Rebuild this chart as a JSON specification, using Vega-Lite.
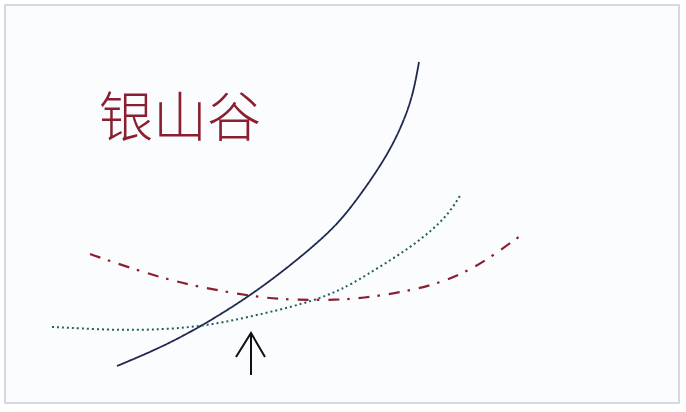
{
  "$schema": "https://vega.github.io/schema/vega-lite/v6.json",
  "autosize": {"type": "fit", "contains": "padding"},
  "width": 686,
  "height": 412,
  "padding": {"left": 5, "top": 5, "right": 7, "bottom": 9},
  "background": "#ffffff",
  "config": {"view": {"stroke": "#c9cdd4", "strokeWidth": 1.5, "fill": "#fbfcfe"}},
  "datasets": {
    "curves": [
      {"series": "fast", "order": 1, "x": 117, "y": 46},
      {"series": "fast", "order": 2, "x": 160, "y": 64},
      {"series": "fast", "order": 3, "x": 200, "y": 85},
      {"series": "fast", "order": 4, "x": 247, "y": 114},
      {"series": "fast", "order": 5, "x": 290, "y": 146},
      {"series": "fast", "order": 6, "x": 330, "y": 180},
      {"series": "fast", "order": 7, "x": 350, "y": 203},
      {"series": "fast", "order": 8, "x": 373, "y": 235},
      {"series": "fast", "order": 9, "x": 390, "y": 262},
      {"series": "fast", "order": 10, "x": 403, "y": 289},
      {"series": "fast", "order": 11, "x": 413, "y": 317},
      {"series": "fast", "order": 12, "x": 419, "y": 350},
      {"series": "mid", "order": 1, "x": 52, "y": 85},
      {"series": "mid", "order": 2, "x": 110, "y": 82},
      {"series": "mid", "order": 3, "x": 150, "y": 82},
      {"series": "mid", "order": 4, "x": 200, "y": 85},
      {"series": "mid", "order": 5, "x": 250, "y": 95},
      {"series": "mid", "order": 6, "x": 307, "y": 109},
      {"series": "mid", "order": 7, "x": 333, "y": 119},
      {"series": "mid", "order": 8, "x": 350, "y": 127},
      {"series": "mid", "order": 9, "x": 383, "y": 147},
      {"series": "mid", "order": 10, "x": 417, "y": 169},
      {"series": "mid", "order": 11, "x": 447, "y": 195},
      {"series": "mid", "order": 12, "x": 461, "y": 218},
      {"series": "slow", "order": 1, "x": 90, "y": 158},
      {"series": "slow", "order": 2, "x": 110, "y": 151},
      {"series": "slow", "order": 3, "x": 140, "y": 141},
      {"series": "slow", "order": 4, "x": 170, "y": 132},
      {"series": "slow", "order": 5, "x": 200, "y": 125},
      {"series": "slow", "order": 6, "x": 233, "y": 119},
      {"series": "slow", "order": 7, "x": 265, "y": 114},
      {"series": "slow", "order": 8, "x": 297, "y": 112},
      {"series": "slow", "order": 9, "x": 337, "y": 112},
      {"series": "slow", "order": 10, "x": 363, "y": 114},
      {"series": "slow", "order": 11, "x": 397, "y": 119},
      {"series": "slow", "order": 12, "x": 430, "y": 126},
      {"series": "slow", "order": 13, "x": 460, "y": 137},
      {"series": "slow", "order": 14, "x": 487, "y": 152},
      {"series": "slow", "order": 15, "x": 520, "y": 176}
    ],
    "arrow": [
      {"part": "stem", "order": 1, "x": 251, "y": 79},
      {"part": "stem", "order": 2, "x": 251, "y": 37},
      {"part": "head", "order": 1, "x": 236, "y": 55},
      {"part": "head", "order": 2, "x": 251, "y": 79},
      {"part": "head", "order": 3, "x": 265, "y": 55}
    ],
    "labels": [
      {"label": "银山谷", "x": 180, "y": 275}
    ]
  },
  "layer": [
    {
      "data": {"name": "curves"},
      "mark": {"type": "line", "interpolate": "basis", "strokeCap": "butt"},
      "encoding": {
        "x": {"field": "x", "type": "quantitative", "scale": {"domain": [5, 679]}, "axis": null},
        "y": {"field": "y", "type": "quantitative", "scale": {"domain": [9, 407]}, "axis": null},
        "order": {"field": "order", "type": "quantitative"},
        "detail": {"field": "series", "type": "nominal"},
        "color": {"field": "series", "type": "nominal", "legend": null,
          "scale": {"domain": ["fast", "mid", "slow"],
                    "range": ["#1e2850", "#285e60", "#8a1f30"]}},
        "strokeDash": {"field": "series", "type": "nominal", "legend": null,
          "scale": {"domain": ["fast", "mid", "slow"],
                    "range": [[1, 0], [2, 3], [11, 8, 2.5, 9]]}},
        "strokeWidth": {"field": "series", "type": "nominal", "legend": null,
          "scale": {"domain": ["fast", "mid", "slow"],
                    "range": [1.8, 2.2, 2.8]}}
      }
    },
    {
      "data": {"name": "arrow"},
      "mark": {"type": "line", "interpolate": "linear", "color": "#111111", "strokeWidth": 2, "strokeJoin": "miter"},
      "encoding": {
        "x": {"field": "x", "type": "quantitative", "scale": {"domain": [5, 679]}, "axis": null},
        "y": {"field": "y", "type": "quantitative", "scale": {"domain": [9, 407]}, "axis": null},
        "order": {"field": "order", "type": "quantitative"},
        "detail": {"field": "part", "type": "nominal"}
      }
    },
    {
      "data": {"name": "labels"},
      "mark": {"type": "text", "font": "Noto Sans CJK SC", "fontSize": 54, "fontWeight": 300, "align": "center", "baseline": "alphabetic", "color": "#8a1f30"},
      "encoding": {
        "x": {"field": "x", "type": "quantitative", "scale": {"domain": [5, 679]}, "axis": null},
        "y": {"field": "y", "type": "quantitative", "scale": {"domain": [9, 407]}, "axis": null},
        "text": {"field": "label", "type": "nominal"}
      }
    }
  ]
}
